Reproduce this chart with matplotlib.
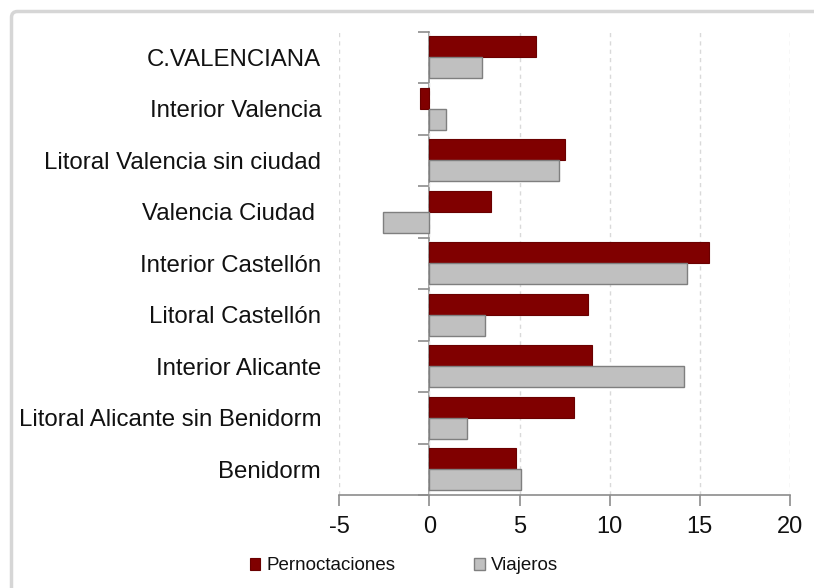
import matplotlib
matplotlib.use("Agg")
import matplotlib.pyplot as plt
from matplotlib.patches import FancyBboxPatch
import numpy as np

categories = ["C.VALENCIANA", "Interior Valencia", "Litoral Valencia sin ciudad",
              "Valencia Ciudad ", "Interior Castellón", "Litoral Castellón",
              "Interior Alicante", "Litoral Alicante sin Benidorm", "Benidorm"]
pernoctaciones = [5.9, -0.5, 7.5, 3.4, 15.5, 8.8, 9.0, 8.0, 4.8]
viajeros = [2.9, 0.9, 7.2, -2.6, 14.3, 3.1, 14.1, 2.1, 5.1]
xticks = [-5, 0, 5, 10, 15, 20]

plt.rcParams['font.family'] = ['Liberation Sans', 'DejaVu Sans']
txt = '#111111'

fig = plt.figure(figsize=(8.14, 5.88), dpi=100)
ax = fig.add_axes([339.3/814, 1 - 495/588, 450.7/814, 463.3/588])

y = np.arange(len(categories))
h = 0.408
ax.barh(y - h/2, pernoctaciones, height=h, color='#800000', edgecolor='#6a0000',
        linewidth=0.8, label='Pernoctaciones', zorder=3)
ax.barh(y + h/2, viajeros, height=h, color='#c0c0c0', edgecolor='#7f7f7f',
        linewidth=1.0, label='Viajeros', zorder=3)

ax.set_xlim(-5, 20)
ax.set_ylim(len(categories) - 0.5, -0.5)
ax.set_xticks(xticks)
ax.set_xticklabels([str(v) for v in xticks])
ax.set_yticks(y)
ax.set_yticklabels(categories)

ax.tick_params(axis='y', length=0, pad=13, labelsize=17.3, labelcolor=txt)
ax.tick_params(axis='x', direction='out', length=8, width=1.2, color='#8c8c8c',
               pad=7, labelsize=17, labelcolor=txt)

for s in ['top', 'right', 'left']:
    ax.spines[s].set_visible(False)
ax.spines['bottom'].set_color('#8c8c8c')
ax.spines['bottom'].set_linewidth(1.2)

ax.grid(axis='x', linestyle=(0, (3, 3)), color='#d9d9d9', linewidth=1, zorder=0)
ax.set_axisbelow(True)

# vertical axis line at x = 0 with category-boundary ticks
sec = ax.secondary_yaxis(0.2)
sec.set_yticks(np.arange(-0.5, len(categories), 1.0))
sec.set_yticklabels([])
sec.tick_params(direction='out', length=8, width=1.2, color='#8c8c8c')
sec.spines['left'].set_color('#8c8c8c')
sec.spines['left'].set_linewidth(1.2)

leg = fig.legend(loc='center', bbox_to_anchor=(404/814, 1 - 566/588), ncol=2,
                 frameon=False, fontsize=13.5, handlelength=0.55, handleheight=0.55,
                 handletextpad=0.35, columnspacing=4.2, labelcolor=txt)

frame = FancyBboxPatch((0.115, -1.0), 10, 5.765 + 1.0,
                       boxstyle='round,pad=0,rounding_size=0.06',
                       transform=fig.dpi_scale_trans, facecolor='none',
                       edgecolor='#d6d6d6', linewidth=2.5, zorder=0)
fig.patches.append(frame)

fig.savefig('out.png', dpi=100, facecolor='white')
